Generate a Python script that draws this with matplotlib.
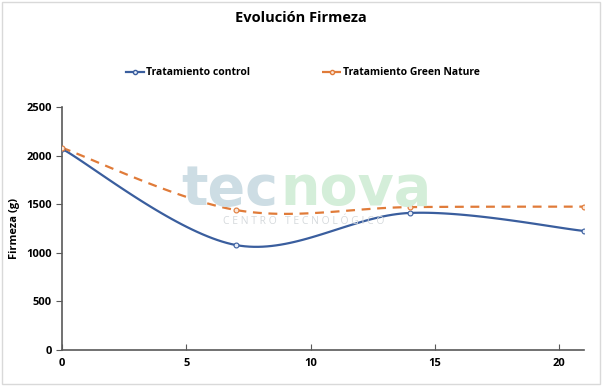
import numpy as np
import matplotlib
matplotlib.use("Agg")
from matplotlib import pyplot as plt
from matplotlib.patches import Rectangle

plt.rcParams['font.family'] = ['Open Sans', 'DejaVu Sans']

days = [0, 7, 14, 21]
control = [2070, 1080, 1410, 1225]
green = [2080, 1440, 1470, 1475]
labels = ['Tratamiento control', 'Tratamiento Green Nature']
colors = ['#3a5e9e', '#e07b39']


def smooth(xs, ys, n=40):
    # Catmull-Rom style smoothing like Excel's "smoothed line"
    p = np.column_stack([xs, ys]).astype(float)
    p = np.vstack([p[0], p, p[-1]])
    out = []
    for i in range(1, len(p) - 2):
        p0, p1, p2, p3 = p[i - 1], p[i], p[i + 1], p[i + 2]
        c1 = p1 + (p2 - p0) / 6
        c2 = p2 - (p3 - p1) / 6
        t = np.linspace(0, 1, n)[:, None]
        seg = (1 - t) ** 3 * p1 + 3 * (1 - t) ** 2 * t * c1 + 3 * (1 - t) * t ** 2 * c2 + t ** 3 * p2
        out.append(seg)
    out = np.vstack(out)
    return out[:, 0], out[:, 1]


fig = plt.figure(figsize=(6.02, 3.86), dpi=100)
fig.patches.append(Rectangle((0.003, 0.005), 0.994, 0.99, transform=fig.transFigure,
                             fill=False, edgecolor='#d9d9d9', lw=1))
ax = fig.add_axes([0.103, 0.093, 0.867, 0.630])

# watermark logo
fig.text(0.463, 0.47, 'tec', fontsize=40, fontweight='bold', family='DejaVu Sans',
         color='#cddde4', ha='right', va='baseline', zorder=0)
fig.text(0.466, 0.47, 'nova', fontsize=40, fontweight='bold', family='DejaVu Sans',
         color='#d4eed9', ha='left', va='baseline', zorder=0)
fig.text(0.505, 0.425, 'C E N T R O   T E C N O L Ó G I C O', fontsize=7.5, color='#d5d9dc',
         ha='center', va='center', zorder=0)
ax.patch.set_alpha(0)

for ys, lab, c, ls in zip([control, green], labels, colors, ['-', '--']):
    sx, sy = smooth(days, ys)
    ax.plot(sx, sy, color=c, lw=1.6, ls=ls, dashes=(4, 3) if ls == '--' else (None, None), zorder=3)
    ax.plot(days, ys, ls='none', marker='o', ms=3.5, mfc='#e8eef8' if c == colors[0] else '#fbe6d8',
            mec=c, mew=0.8, zorder=4)

ax.set_xlim(0, 21)
ax.set_ylim(0, 2500)
ax.set_xticks([0, 5, 10, 15, 20])
ax.set_yticks(range(0, 2501, 500))
for s in ['top', 'right']:
    ax.spines[s].set_visible(False)
ax.spines['left'].set_color('#595959')
ax.spines['bottom'].set_color('#595959')
ax.spines['left'].set_linewidth(1.2)
ax.spines['bottom'].set_linewidth(1.2)
ax.tick_params(axis='y', direction='out', length=4, color='#595959', labelsize=8)
ax.tick_params(axis='x', direction='in', length=4, color='#595959', labelsize=8, pad=6)
for t in ax.get_xticklabels() + ax.get_yticklabels():
    t.set_fontweight('bold')
ax.set_ylabel('Firmeza (g)', fontsize=8, fontweight='bold')

fig.text(0.5, 0.953, 'Evolución Firmeza', ha='center', va='center', fontsize=10.5, fontweight='bold')

handles = [plt.Line2D([], [], color=colors[0], lw=1.6, marker='o', ms=3, mfc='#e8eef8', mec=colors[0]),
           plt.Line2D([], [], color=colors[1], lw=1.6, ls='--', marker='o', ms=3, mfc='#fbe6d8', mec=colors[1])]
fig.legend(handles, labels, loc='center', bbox_to_anchor=(0.503, 0.811), ncol=2, frameon=False,
           prop={'size': 7.5, 'weight': 'bold'}, columnspacing=6.9, handlelength=1.8, handletextpad=0.2)

fig.savefig('out.png', dpi=100)
